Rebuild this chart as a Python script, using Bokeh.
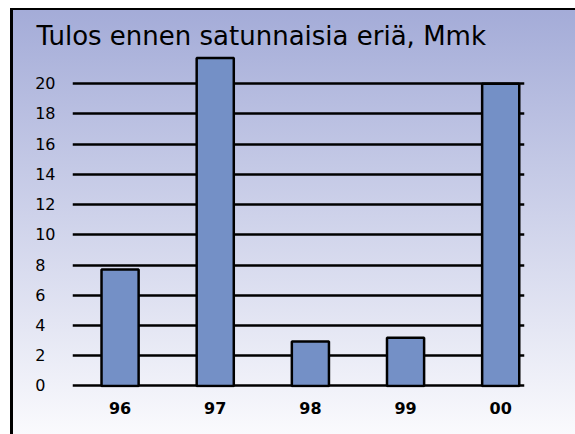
from bokeh.plotting import figure
from bokeh.models import FixedTicker, Range1d
from bokeh.embed import file_html
from bokeh.resources import INLINE

# Data
years = ["96", "97", "98", "99", "00"]
values = [7.7, 21.7, 2.95, 3.2, 20.0]
y_ticks = [0, 2, 4, 6, 8, 10, 12, 14, 16, 18, 20]
title_text = "Tulos ennen satunnaisia eriä, Mmk"

xs = list(range(len(years)))

p = figure(width=575, height=434, output_backend="svg", toolbar_location=None,
           x_range=Range1d(-0.5, 4.25), y_range=Range1d(-0.1, 22),
           min_border_left=72, min_border_right=51,
           min_border_top=53, min_border_bottom=47,
           title=title_text)

p.background_fill_color = None
p.border_fill_color = None
p.outline_line_color = None

p.styles = {
    "background": (
        "linear-gradient(#ffffff,#ffffff) 0 0 / 10px 100% no-repeat, "
        "linear-gradient(#ffffff,#ffffff) 0 0 / 100% 8px no-repeat, "
        "linear-gradient(#000000,#000000) 10px 8px / 3px 100% no-repeat, "
        "linear-gradient(#000000,#000000) 10px 8px / 100% 2px no-repeat, "
        "linear-gradient(to bottom, #a2aad7 0%, #fafafd 100%)"
    )
}

p.vbar(x=xs, top=values, width=0.39, bottom=0,
       fill_color="#7490c6", line_color="black", line_width=2.5)

# Title
p.title.text_font = "DejaVu Sans"
p.title.text_font_size = "26px"
p.title.text_font_style = "normal"
p.title.text_color = "black"
p.title.align = "left"
p.title.offset = -36
p.title.standoff = 6

# Y axis (labels left-aligned: single digits padded with a figure space)
p.yaxis.ticker = FixedTicker(ticks=y_ticks)
p.yaxis.major_label_overrides = {t: (str(t) if t >= 10 else str(t) + "\u2007") for t in y_ticks}
p.yaxis.axis_line_color = None
p.yaxis.major_tick_line_color = None
p.yaxis.minor_tick_line_color = None
p.yaxis.major_label_text_font = "DejaVu Sans"
p.yaxis.major_label_text_font_size = "16px"
p.yaxis.major_label_text_color = "black"
p.yaxis.major_label_standoff = 11

# X axis
p.xaxis.ticker = FixedTicker(ticks=xs)
p.xaxis.major_label_overrides = {i: y for i, y in zip(xs, years)}
p.xaxis.axis_line_color = None
p.xaxis.major_tick_line_color = None
p.xaxis.minor_tick_line_color = None
p.xaxis.major_label_text_font = "DejaVu Sans"
p.xaxis.major_label_text_font_size = "16px"
p.xaxis.major_label_text_font_style = "bold"
p.xaxis.major_label_text_color = "black"
p.xaxis.major_label_standoff = 8

# Grid
p.xgrid.grid_line_color = None
p.ygrid.ticker = FixedTicker(ticks=y_ticks)
p.ygrid.grid_line_color = "black"
p.ygrid.grid_line_width = 2.3

open("out.html", "w").write(file_html(p, INLINE))
